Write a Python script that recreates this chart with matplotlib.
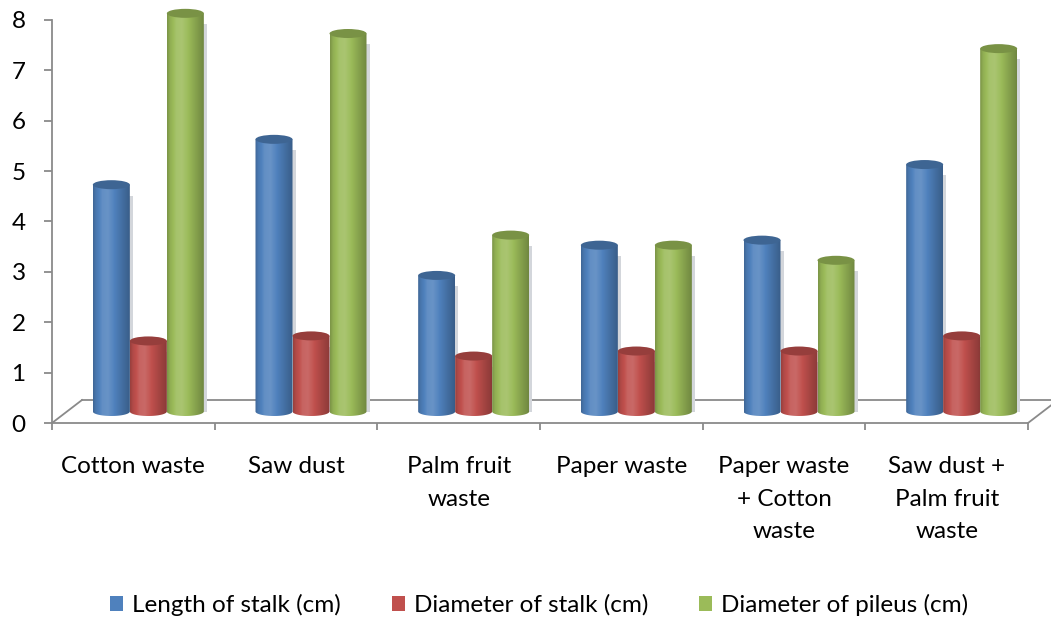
import numpy as np
import matplotlib
matplotlib.use("Agg")
import matplotlib.pyplot as plt
from matplotlib.patches import Ellipse, PathPatch, Patch, Rectangle
from matplotlib.path import Path
from matplotlib.colors import to_rgb

# ---- data -------------------------------------------------------------
categories = ["Cotton waste", "Saw dust", "Palm fruit\nwaste", "Paper waste",
              "Paper waste\n+ Cotton\nwaste", "Saw dust +\nPalm fruit\nwaste"]
length_of_stalk = [4.5, 5.4, 2.7, 3.3, 3.4, 4.9]
diameter_of_stalk = [1.4, 1.5, 1.1, 1.2, 1.2, 1.5]
diameter_of_pileus = [7.9, 7.5, 3.5, 3.3, 3.0, 7.2]
series_names = ["Length of stalk (cm)", "Diameter of stalk (cm)",
                "Diameter of pileus (cm)"]
series_values = [length_of_stalk, diameter_of_stalk, diameter_of_pileus]
series_colors = ["#4F81BD", "#C0504D", "#9BBB59"]
y_ticks = [0, 1, 2, 3, 4, 5, 6, 7, 8]

plt.rcParams["font.family"] = ["Lato", "DejaVu Sans"]
FS = 17.5
AXIS_GRAY = "#8a8a8a"

# ---- layout (pixels) --------------------------------------------------
W, H = 1051, 619
PPU = 50.4            # pixels per value unit
Y0_PX = 423           # pixel row of value 0 (front floor edge)
X_LEFT, X_RIGHT = 52, 1028
ymin, ymax = -0.5, 8.35
n = len(categories)
XPPU = (X_RIGHT - X_LEFT) / n

fig = plt.figure(figsize=(W / 100, H / 100), dpi=100)
bottom_px = Y0_PX + (0 - ymin) * PPU
ax = fig.add_axes([X_LEFT / W, (H - bottom_px) / H,
                   (X_RIGHT - X_LEFT) / W, (ymax - ymin) * PPU / H])

# depth of the floor (back edge offset) in data units
depth_dx = 30 / XPPU
depth_dy = 23 / PPU
base = depth_dy / 2          # bars stand at mid-depth
shift = depth_dx / 2
bar_w = 37 / XPPU
ell_h = 9 / PPU

# ---- floor outline ----------------------------------------------------
fl = dict(color=AXIS_GRAY, lw=1.3, clip_on=False, zorder=1)
ax.plot([-0.5, -0.5 + depth_dx], [0, depth_dy], **fl)
ax.plot([-0.5 + depth_dx, n - 0.5 + depth_dx + 0.2], [depth_dy, depth_dy], **fl)
ax.plot([n - 0.5, n - 0.5 + depth_dx], [0, depth_dy], **fl)

# ---- cylinder shading -------------------------------------------------
prof_pos = np.array([0, 0.08, 0.25, 0.4, 0.55, 0.7, 0.85, 0.95, 1.0])
prof_fac = np.array([0.80, 0.93, 1.07, 1.09, 1.02, 0.92, 0.82, 0.76, 0.72])
xs = np.linspace(0, 1, 64)
fac = np.interp(xs, prof_pos, prof_fac)


def shade(color):
    c = np.array(to_rgb(color))
    out = np.empty((1, len(xs), 3))
    for k, f in enumerate(fac):
        if f >= 1:
            out[0, k] = c + (1 - c) * (f - 1) * 1.6
        else:
            out[0, k] = c * f
    return np.clip(out, 0, 1)


t = np.linspace(np.pi, 2 * np.pi, 40)
x_pos = np.arange(n)
for s, (vals, col) in enumerate(zip(series_values, series_colors)):
    offs = shift + (s - 1) * bar_w
    bars = ax.bar(x_pos + offs, vals, width=bar_w, bottom=base,
                  color=col, linewidth=0, zorder=3 + s)
    img = shade(col)
    top_col = np.array(to_rgb(col)) * 0.78
    for rect in bars:
        x0 = rect.get_x()
        w = rect.get_width()
        y_b = rect.get_y()
        y_t = y_b + rect.get_height()
        xc = x0 + w / 2
        # soft shadow on the right
        ax.add_patch(Rectangle((x0 + w - 3 / XPPU, y_b), 6 / XPPU,
                               y_t - y_b - ell_h * 1.2,
                               color="#d3d6db", lw=0, zorder=2))
        # body outline: rectangle with rounded bottom
        arc_x = xc - (w / 2) * np.cos(t - np.pi)
        arc_y = y_b + (ell_h / 2) * np.sin(t)
        verts = [(x0, y_t)] + list(zip(arc_x, arc_y)) + [(x0 + w, y_t), (x0, y_t)]
        codes = [Path.MOVETO] + [Path.LINETO] * (len(verts) - 2) + [Path.CLOSEPOLY]
        body = PathPatch(Path(verts, codes), transform=ax.transData,
                         facecolor="none", edgecolor="none")
        ax.add_patch(body)
        im = ax.imshow(img, extent=(x0, x0 + w, y_b - ell_h, y_t),
                       aspect="auto", interpolation="bilinear",
                       zorder=3 + s)
        im.set_clip_path(body)
        rect.set_visible(False)
        ax.add_patch(Ellipse((xc, y_t), w, ell_h, facecolor=top_col,
                             edgecolor="none", zorder=3 + s + 0.1))

# ---- axes -------------------------------------------------------------
ax.set_xlim(-0.5, n - 0.5)
ax.set_ylim(ymin, ymax)
for side in ("top", "right"):
    ax.spines[side].set_visible(False)
ax.spines["left"].set_bounds(0, 8)
ax.spines["left"].set_color(AXIS_GRAY)
ax.spines["left"].set_linewidth(1.3)
ax.spines["bottom"].set_position(("data", 0))
ax.spines["bottom"].set_color(AXIS_GRAY)
ax.spines["bottom"].set_linewidth(1.3)

ax.set_yticks(y_ticks)
ax.set_yticklabels([str(v) for v in y_ticks], fontsize=FS)
ax.tick_params(axis="y", direction="out", length=6, width=1.3,
               color=AXIS_GRAY, pad=13)

ax.set_xticks(np.arange(-0.5, n), labels=[""] * (n + 1))
ax.tick_params(axis="x", which="major", direction="out", length=5,
               width=1.3, color=AXIS_GRAY)
ax.set_xticks(x_pos, labels=categories, minor=True)
ax.tick_params(axis="x", which="minor", length=0, pad=24, labelsize=FS)
for lab in ax.get_xticklabels(minor=True):
    lab.set_linespacing(1.68)
    lab.set_ha("center")

# ---- legend -----------------------------------------------------------
handles = [Patch(facecolor=c, edgecolor="none", label=l)
           for c, l in zip(series_colors, series_names)]
fig.legend(handles=handles, loc="center", bbox_to_anchor=(539 / W, (H - 605) / H),
           ncol=3, frameon=False, fontsize=FS, handlelength=0.55,
           handleheight=0.55, handletextpad=0.35, columnspacing=2.1)

fig.savefig("out.png", dpi=100)
